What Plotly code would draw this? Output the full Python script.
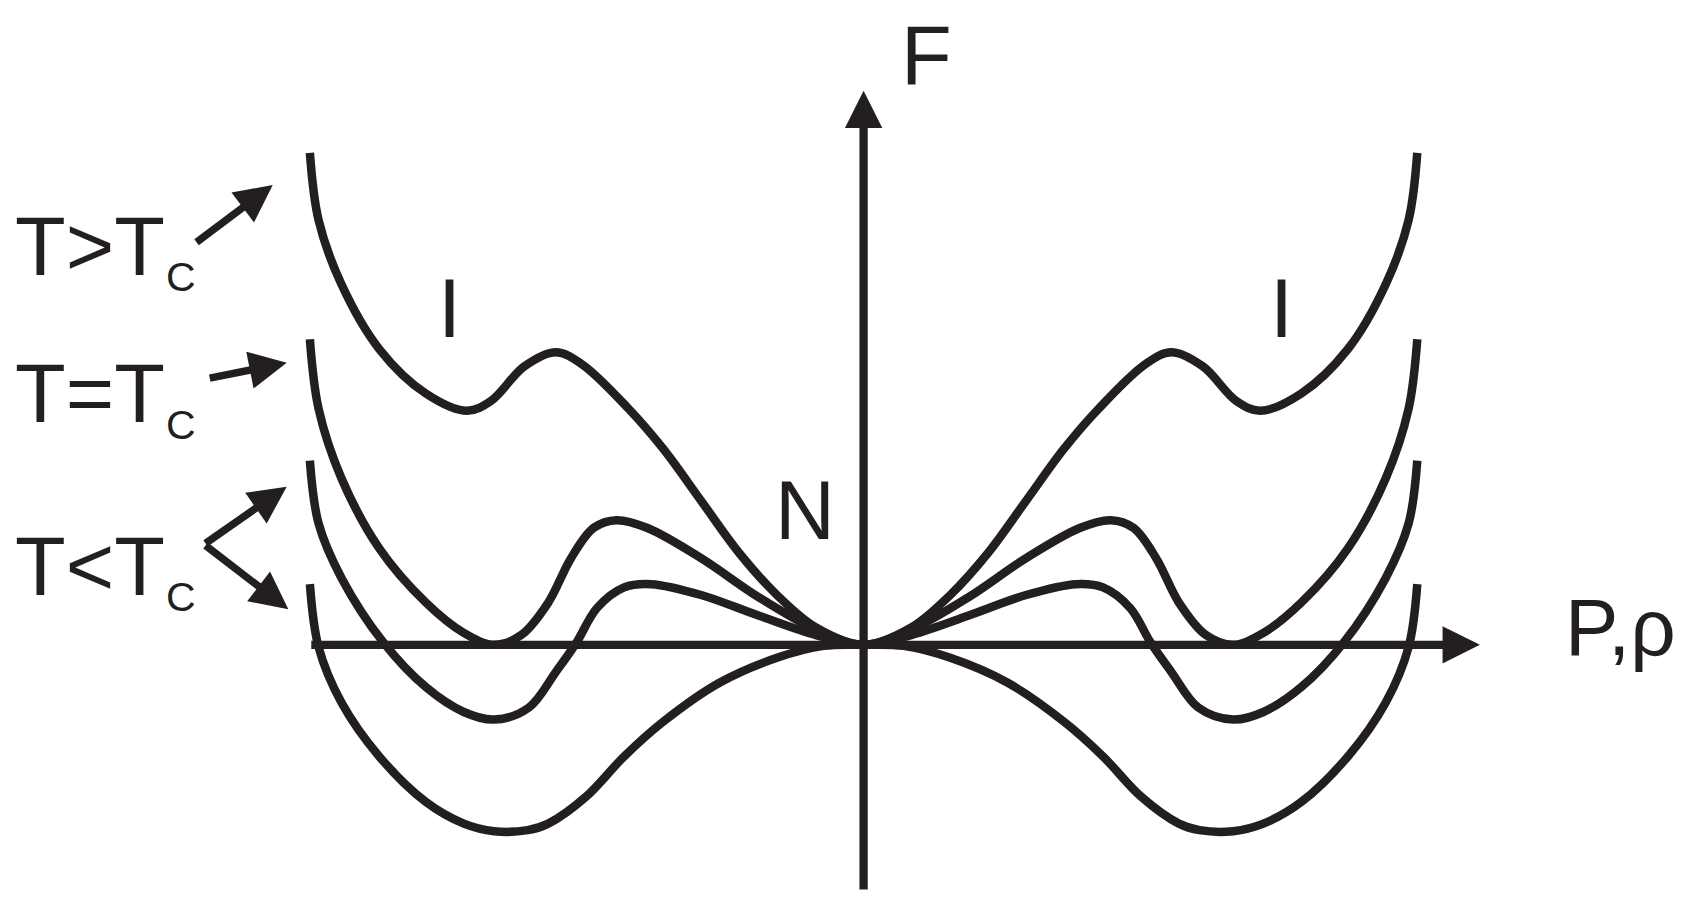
import plotly.graph_objects as go

# ---- data (left half of each free-energy curve; the figure is mirror-symmetric) ----
P_T_above = [-5.11, -5.03, -4.82, -4.47, -4.04, -3.66, -3.44, -3.13, -2.84, -2.60, -2.17, -1.85, -1.50, -1.15, -0.80, -0.44, 0.0]
F_T_above = [4.54, 3.92, 3.33, 2.73, 2.32, 2.16, 2.25, 2.57, 2.70, 2.59, 2.18, 1.81, 1.33, 0.85, 0.46, 0.16, 0.0]

P_T_equal = [-5.11, -5.03, -4.82, -4.47, -4.04, -3.69, -3.41, -3.16, -2.91, -2.70, -2.49, -2.28, -2.00, -1.50, -0.97, -0.44, 0.0]
F_T_equal = [2.82, 2.18, 1.54, 0.89, 0.39, 0.11, 0.0, 0.09, 0.39, 0.80, 1.08, 1.15, 1.08, 0.80, 0.44, 0.14, 0.0]

P_T_below1 = [-5.11, -5.03, -4.82, -4.43, -4.04, -3.69, -3.41, -3.09, -2.84, -2.65, -2.46, -2.21, -1.96, -1.50, -0.97, -0.44, 0.0]
F_T_below1 = [1.70, 1.12, 0.62, 0.02, -0.39, -0.62, -0.69, -0.58, -0.25, 0.02, 0.34, 0.53, 0.56, 0.46, 0.27, 0.09, 0.0]

P_T_below2 = [-5.11, -5.03, -4.82, -4.47, -4.04, -3.69, -3.41, -3.10, -2.91, -2.56, -2.21, -1.85, -1.33, -0.80, -0.37, 0.0]
F_T_below2 = [0.56, -0.02, -0.53, -1.03, -1.45, -1.65, -1.72, -1.71, -1.65, -1.40, -1.03, -0.71, -0.35, -0.12, -0.01, 0.0]

curve_names = ["T>Tc", "T=Tc", "T<Tc (a)", "T<Tc (b)"]
halves = [(P_T_above, F_T_above), (P_T_equal, F_T_equal),
          (P_T_below1, F_T_below1), (P_T_below2, F_T_below2)]

legend_labels = ["T>T", "T=T", "T<T"]
subscript = "C"

INK = "#231f20"
FONT = "Liberation Sans, Arial, Helvetica, sans-serif"

fig = go.Figure()

for name, (ph, fh) in zip(curve_names, halves):
    # mirror the measured left half onto the right side (P -> -P)
    P = list(ph) + [-p for p in reversed(ph[:-1])]
    F = list(fh) + list(reversed(fh[:-1]))
    fig.add_trace(go.Scatter(x=P, y=F, mode="lines", name=name,
                             line=dict(color=INK, width=8.5, shape="spline", smoothing=1.0),
                             hoverinfo="skip"))

ann = []

def arrow(tip, tail, width=7.5, size=1.0):
    ann.append(dict(x=tip[0], y=tip[1], ax=tail[0], ay=tail[1],
                    xref="x", yref="y", axref="x", ayref="y",
                    text="", showarrow=True, arrowhead=2, arrowsize=size,
                    arrowwidth=width, arrowcolor=INK, standoff=0))

# axes with arrow heads
arrow((5.688, 0.0), (-5.111, 0.0), width=8.3, size=0.9)
arrow((0.0, 5.114), (0.0, -2.272), width=8.3, size=0.9)

# legend arrows
arrow((-5.453, 4.243), (-6.170, 3.705))
arrow((-5.324, 2.603), (-6.048, 2.459))
arrow((-5.324, 1.459), (-6.087, 0.927))
arrow((-5.309, 0.328), (-6.087, 0.927))

def label(txt, x, y, size=83, xanchor="center"):
    ann.append(dict(x=x, y=y, xref="x", yref="y", text=txt, showarrow=False,
                    xanchor=xanchor, yanchor="middle",
                    font=dict(family=FONT, size=size, color=INK)))

label("F", 0.576, 5.443)
label("N", -0.543, 1.241)
label("I", -3.826, 3.108)
label("I", 3.857, 3.108)
label("P,ρ", 6.455, 0.156, size=80, xanchor="left")

for txt, y in zip(legend_labels, [3.678, 2.317, 0.727]):
    label(txt, -7.85, y, xanchor="left")
for y in [3.394, 2.031, 0.439]:
    label(subscript, -6.304, y, size=41)

fig.update_layout(
    width=1699, height=913, autosize=False,
    margin=dict(l=0, r=0, t=0, b=0, pad=0),
    paper_bgcolor="white", plot_bgcolor="white",
    showlegend=False,
    xaxis=dict(range=[-7.970, 7.710], visible=False, fixedrange=True),
    yaxis=dict(range=[-2.475, 5.951], visible=False, fixedrange=True),
    annotations=ann,
)

fig.write_html("out.html", config={"displayModeBar": False},
               post_script="document.body.style.margin='0';document.body.style.overflow='hidden';")
